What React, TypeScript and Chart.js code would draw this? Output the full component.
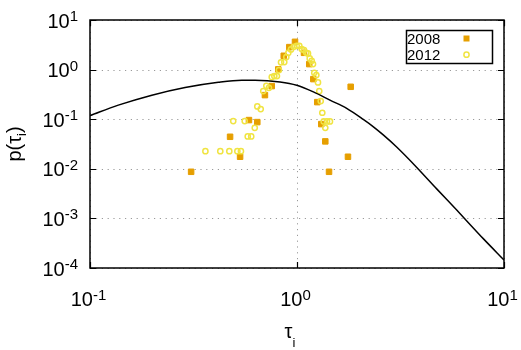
import React, { useEffect, useRef } from "react";
import { Chart, registerables } from "chart.js";

Chart.register(...registerables);

// ---- data ----
const x2008 = [0.308, 0.475, 0.531, 0.586, 0.643, 0.7, 0.755, 0.812, 0.863, 0.918, 0.978, 1.081, 1.146, 1.199, 1.253, 1.31, 1.37, 1.428, 1.763, 1.817];
const y2008 = [0.0087, 0.0442, 0.0175, 0.096, 0.0874, 0.306, 0.465, 1.01, 1.9, 2.84, 3.63, 2.18, 1.29, 0.643, 0.221, 0.0796, 0.0357, 0.0087, 0.0175, 0.45];

const x2012 = [0.361, 0.426, 0.471, 0.492, 0.515, 0.536, 0.559, 0.578, 0.601, 0.625, 0.643, 0.668, 0.687, 0.711, 0.732, 0.755, 0.777, 0.8, 0.818, 0.837, 0.868, 0.888, 0.908, 0.935, 0.964, 0.997, 1.026, 1.054, 1.081, 1.109, 1.13, 1.152, 1.178, 1.195, 1.212, 1.24, 1.263, 1.281, 1.302, 1.325, 1.346, 1.37, 1.396, 1.443];
const y2012 = [0.0227, 0.0227, 0.0227, 0.0916, 0.0227, 0.0227, 0.0916, 0.045, 0.045, 0.067, 0.181, 0.16, 0.369, 0.471, 0.43, 0.706, 0.739, 0.739, 0.977, 1.4, 1.42, 1.79, 2.18, 2.55, 2.88, 3.02, 3.02, 2.59, 2.47, 2.18, 2.12, 1.68, 1.5, 1.29, 0.861, 0.775, 0.552, 0.369, 0.232, 0.135, 0.09, 0.067, 0.09, 0.09];

const fitX = [0.1, 0.137, 0.199, 0.288, 0.417, 0.541, 0.627, 0.828, 0.997, 1.2, 1.443, 1.738, 2.09, 2.34, 2.61, 3.03, 3.79, 4.73, 5.91, 6.61, 7.94, 10];
const fitY = [0.118, 0.192, 0.305, 0.436, 0.557, 0.612, 0.612, 0.565, 0.485, 0.356, 0.242, 0.165, 0.0989, 0.0701, 0.0482, 0.0275, 0.01067, 0.00394, 0.00147, 0.000889, 0.000391, 0.000145];

const xTicks = [0.1, 1, 10];
const xTickExp = ["-1", "0", "1"];
const yTicks = [1e-4, 1e-3, 1e-2, 1e-1, 1, 10];
const yTickExp = ["-4", "-3", "-2", "-1", "0", "1"];
const legendLabels = ["2008", "2012"];
const xTitleMain = "τ";
const titleSub = "i";

const COLOR_2008 = "#E69F00";
const COLOR_2012 = "#F0E442";
const FONT = '"Liberation Sans", Arial, Helvetica, sans-serif';

function drawPower(ctx: CanvasRenderingContext2D, exp: string, x: number, baseline: number, align: "right" | "center") {
  ctx.font = `20px ${FONT}`;
  const w1 = ctx.measureText("10").width;
  ctx.font = `15px ${FONT}`;
  const w2 = ctx.measureText(exp).width;
  const total = w1 + w2;
  const start = align === "right" ? x - total : x - total / 2;
  ctx.textAlign = "left";
  ctx.textBaseline = "alphabetic";
  ctx.font = `20px ${FONT}`;
  ctx.fillText("10", start, baseline);
  ctx.font = `15px ${FONT}`;
  ctx.fillText(exp, start + w1, baseline - 6.5);
}

const gnuplotPlugin = {
  id: "gnuplotLook",
  beforeDatasetsDraw(chart: any) {
    const { ctx, chartArea: a, scales } = chart;
    const xs = scales.x;
    const ys = scales.y;
    ctx.save();
    ctx.strokeStyle = "#9a9a9a";
    ctx.lineWidth = 1;
    ctx.setLineDash([1.2, 4.6]);
    for (const v of yTicks) {
      const py = Math.round(ys.getPixelForValue(v)) + 0.5;
      ctx.beginPath();
      ctx.moveTo(a.left + 6, py);
      ctx.lineTo(a.right - 6, py);
      ctx.stroke();
    }
    for (const v of xTicks) {
      const px = Math.round(xs.getPixelForValue(v)) + 0.5;
      ctx.beginPath();
      ctx.moveTo(px, a.top + 6);
      ctx.lineTo(px, a.bottom - 6);
      ctx.stroke();
    }
    ctx.restore();
  },
  afterDatasetsDraw(chart: any) {
    const { ctx, chartArea: a, scales } = chart;
    const xs = scales.x;
    const ys = scales.y;
    ctx.save();
    ctx.setLineDash([]);
    ctx.strokeStyle = "#000";
    ctx.lineWidth = 1.5;
    ctx.strokeRect(a.left, a.top, a.right - a.left, a.bottom - a.top);

    // inward ticks
    ctx.lineWidth = 1.2;
    const tl = 6;
    for (const v of yTicks) {
      const py = Math.round(ys.getPixelForValue(v)) + 0.5;
      ctx.beginPath();
      ctx.moveTo(a.left, py);
      ctx.lineTo(a.left + tl, py);
      ctx.moveTo(a.right, py);
      ctx.lineTo(a.right - tl, py);
      ctx.stroke();
    }
    for (const v of xTicks) {
      const px = Math.round(xs.getPixelForValue(v)) + 0.5;
      ctx.beginPath();
      ctx.moveTo(px, a.bottom);
      ctx.lineTo(px, a.bottom - tl);
      ctx.moveTo(px, a.top);
      ctx.lineTo(px, a.top + tl);
      ctx.stroke();
    }

    // tick labels
    ctx.fillStyle = "#000";
    yTicks.forEach((v, i) => {
      const py = ys.getPixelForValue(v);
      drawPower(ctx, yTickExp[i], a.left - 12, py + 7.5, "right");
    });
    xTicks.forEach((v, i) => {
      const px = xs.getPixelForValue(v);
      drawPower(ctx, xTickExp[i], px - 1.5, a.bottom + 38, "center");
    });

    // x title
    const cx = (a.left + a.right) / 2;
    ctx.textAlign = "left";
    ctx.textBaseline = "alphabetic";
    ctx.font = `20px ${FONT}`;
    const tw = ctx.measureText(xTitleMain).width;
    const x0 = cx - 12.5;
    ctx.fillText(xTitleMain, x0, a.bottom + 70);
    ctx.font = `13px ${FONT}`;
    ctx.fillText(titleSub, x0 + tw, a.bottom + 78.5);

    // y title: p(τ_i)
    const cy = (a.top + a.bottom) / 2;
    ctx.save();
    ctx.translate(21, cy);
    ctx.rotate(-Math.PI / 2);
    ctx.font = `20px ${FONT}`;
    const pa = "p(" + xTitleMain;
    const pb = ")";
    const wa = ctx.measureText(pa).width;
    const wb = ctx.measureText(pb).width;
    ctx.font = `13px ${FONT}`;
    const ws = ctx.measureText(titleSub).width;
    const total = wa + ws + wb;
    let sx = -total / 2;
    ctx.font = `20px ${FONT}`;
    ctx.fillText(pa, sx, 0);
    sx += wa;
    ctx.font = `13px ${FONT}`;
    ctx.fillText(titleSub, sx, 5);
    sx += ws;
    ctx.font = `20px ${FONT}`;
    ctx.fillText(pb, sx, 0);
    ctx.restore();

    // legend box
    const lx = a.right - 97.5;
    const ly = a.top + 10.5;
    ctx.lineWidth = 1.5;
    ctx.strokeStyle = "#000";
    ctx.strokeRect(lx, ly, 86, 33);
    ctx.font = `15px ${FONT}`;
    ctx.fillStyle = "#000";
    ctx.fillText(legendLabels[0], lx + 0.5, ly + 13.8);
    ctx.fillText(legendLabels[1], lx + 0.5, ly + 29.5);
    // legend markers
    ctx.fillStyle = COLOR_2008;
    ctx.fillRect(lx + 57, ly + 5, 6, 6);
    ctx.beginPath();
    ctx.strokeStyle = COLOR_2012;
    ctx.lineWidth = 1.5;
    ctx.arc(lx + 60, ly + 24.2, 2.6, 0, Math.PI * 2);
    ctx.stroke();
    ctx.restore();
  },
};

export default function App() {
  const ref = useRef<HTMLCanvasElement | null>(null);
  useEffect(() => {
    if (!ref.current) return;
    const chart = new Chart(ref.current, {
      type: "scatter",
      data: {
        datasets: [
          {
            label: "fit",
            data: fitX.map((x, i) => ({ x, y: fitY[i] })),
            showLine: true,
            borderColor: "#000",
            borderWidth: 1.5,
            pointRadius: 0,
            cubicInterpolationMode: "monotone",
            order: 0,
          } as any,
          {
            label: legendLabels[1],
            data: x2012.map((x, i) => ({ x, y: y2012[i] })),
            pointStyle: "circle",
            pointRadius: 2.6,
            borderWidth: 1.5,
            borderColor: COLOR_2012,
            backgroundColor: "rgba(0,0,0,0)",
            order: 1,
          },
          {
            label: legendLabels[0],
            data: x2008.map((x, i) => ({ x, y: y2008[i] })),
            pointStyle: "rect",
            pointRadius: 3.9,
            borderWidth: 1,
            borderColor: COLOR_2008,
            backgroundColor: COLOR_2008,
            order: 2,
          },
        ],
      },
      options: {
        responsive: false,
        animation: false,
        devicePixelRatio: 1,
        events: [],
        layout: { padding: { left: 90, right: 17, top: 20, bottom: 82 } },
        plugins: { legend: { display: false }, tooltip: { enabled: false } },
        scales: {
          x: { type: "logarithmic", min: 0.1, max: 10, display: false },
          y: { type: "logarithmic", min: 1e-4, max: 10, display: false },
        },
      },
      plugins: [gnuplotPlugin],
    });
    return () => chart.destroy();
  }, []);
  return (
    <div style={{ position: "fixed", left: 0, top: 0, width: 521, height: 350, background: "#fff" }}>
      <canvas ref={ref} width={521} height={350} style={{ width: 521, height: 350, display: "block" }} />
    </div>
  );
}
